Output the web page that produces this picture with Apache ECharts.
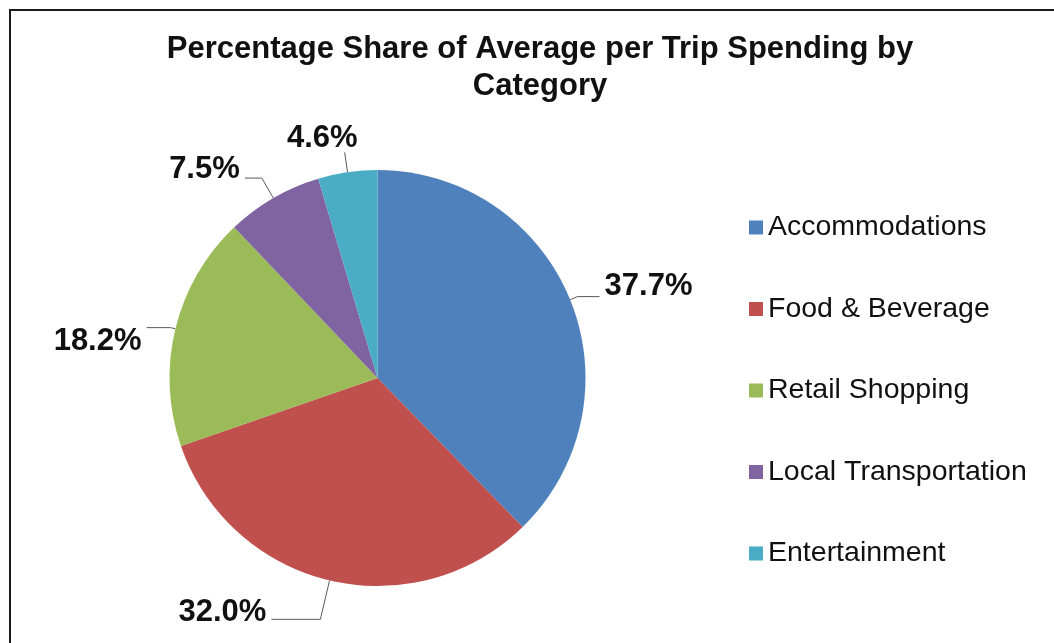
<!DOCTYPE html>
<html>
<head>
<meta charset="utf-8">
<title>Percentage Share of Average per Trip Spending by Category</title>
<script src="https://cdn.jsdelivr.net/npm/echarts@6/dist/echarts.min.js"></script>
<style>
  html, body { margin: 0; padding: 0; background: #fff; }
  #chart { width: 1054px; height: 643px; }
</style>
</head>
<body>
<div id="chart"></div>
<script>
// data
const categories = ['Accommodations', 'Food & Beverage', 'Retail Shopping', 'Local Transportation', 'Entertainment'];
const shares = [37.7, 32.0, 18.2, 7.5, 4.6]; // percent
const colors = ['#4F81BD', '#C0504D', '#9BBB59', '#8064A2', '#4BACC6'];

// leader line lengths / label nudges, one per slice
const labelTweaks = [
  { len: 8, len2: 22, dist: 5, dy: -10 },
  { len: 40, len2: 49, dist: 5, dy: -7 },
  { len: 5, len2: 24, dist: 5, dy: 14 },
  { len: 23, len2: 17, dist: 5, dy: -9 },
  { len: 20, len2: 0, dist: -13, dy: -14 }
];

const chart = echarts.init(document.getElementById('chart'));

const pieData = categories.map((name, i) => ({
  name: name,
  value: shares[i],
  itemStyle: { color: colors[i] },
  label: { distanceToLabelLine: labelTweaks[i].dist },
  labelLine: { length: labelTweaks[i].len, length2: labelTweaks[i].len2 }
}));

const option = {
  animation: false,
  backgroundColor: '#fff',
  title: {
    text: 'Percentage Share of Average per Trip Spending by\nCategory',
    left: 540,
    top: 31,
    padding: 0,
    textAlign: 'center',
    textStyle: {
      fontFamily: 'Liberation Sans, Arial, sans-serif',
      fontSize: 31,
      fontWeight: 'bold',
      lineHeight: 37,
      color: '#111'
    }
  },
  legend: {
    orient: 'vertical',
    left: 749,
    top: 213,
    padding: 0,
    itemWidth: 14,
    itemHeight: 14,
    itemGap: 52.5,
    icon: 'rect',
    data: categories,
    textStyle: {
      fontFamily: 'Liberation Sans, Arial, sans-serif',
      fontSize: 28.5,
      lineHeight: 28,
      color: '#111'
    }
  },
  graphic: [
    {
      type: 'rect',
      shape: { x: 10, y: 10, width: 1100, height: 700 },
      style: { fill: 'none', stroke: '#1a1a1a', lineWidth: 2 },
      silent: true
    }
  ],
  series: [
    {
      type: 'pie',
      center: [377.5, 378],
      radius: 208,
      startAngle: 90,
      clockwise: true,
      avoidLabelOverlap: false,
      data: pieData,
      label: {
        show: true,
        position: 'outside',
        formatter: p => p.value.toFixed(1) + '%',
        fontFamily: 'Liberation Sans, Arial, sans-serif',
        fontSize: 31,
        fontWeight: 'bold',
        color: '#111'
      },
      labelLayout: p => ({ dy: labelTweaks[p.dataIndex].dy }),
      labelLine: {
        show: true,
        lineStyle: { color: '#595959', width: 1 }
      },
      emphasis: { disabled: true }
    }
  ]
};

chart.setOption(option);
</script>
</body>
</html>
